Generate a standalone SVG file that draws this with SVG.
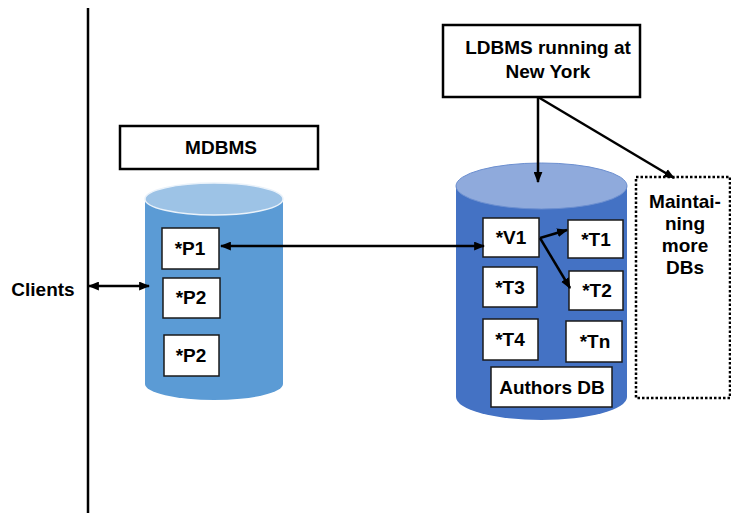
<svg xmlns="http://www.w3.org/2000/svg" width="731" height="519" viewBox="0 0 731 519">
  <style>
    text { font-family: "Liberation Sans", Arial, sans-serif; font-weight: bold; font-size: 19px; fill: #000; text-anchor: middle; }
    .label { fill: #fff; stroke: #000; stroke-width: 2.5; }
    .cell { fill: #fff; stroke: #1a1a1a; stroke-width: 1.5; }
    .wire { stroke: #000; stroke-width: 2.5; fill: none; }
  </style>
  <defs>
    <marker id="head" viewBox="0 0 10 8" refX="9" refY="4" markerWidth="4.4" markerHeight="3.6" orient="auto-start-reverse" markerUnits="strokeWidth">
      <path d="M0,0 L10,4 L0,8 z" fill="#000"/>
    </marker>
  </defs>
  <rect width="731" height="519" fill="#fff"/>

  <!-- client boundary -->
  <line x1="88" y1="8" x2="88" y2="513" stroke="#000" stroke-width="2.5"/>
  <g id="clients">
    <text x="43" y="296">Clients</text>
  </g>

  <!-- mediator DBMS -->
  <g id="mdbms-label">
    <rect class="label" x="120" y="126" width="198" height="43"/>
    <text x="221" y="154">MDBMS</text>
  </g>
  <g id="mdbms-store">
    <path d="M145,199 L145,384 A69,16 0 0 0 283,384 L283,199 Z" fill="#5B9BD5"/>
    <ellipse cx="214" cy="199" rx="69" ry="16" fill="#9DC3E6" stroke="#EAF2FA" stroke-width="1.5"/>
    <g id="p1"><rect class="cell" x="162" y="228" width="57" height="41"/><text x="190" y="255">*P1</text></g>
    <g id="p2a"><rect class="cell" x="163" y="278" width="57" height="40"/><text x="191" y="304">*P2</text></g>
    <g id="p2b"><rect class="cell" x="164" y="335" width="55" height="41"/><text x="191" y="362">*P2</text></g>
  </g>

  <!-- local DBMS -->
  <g id="ldbms">
    <rect class="label" x="443" y="25" width="197" height="72"/>
    <text x="548" y="54">LDBMS running at</text>
    <text x="548" y="78">New York</text>
  </g>
  <g id="authors-store">
    <path d="M456,186 L456,397 A85.5,23 0 0 0 627,397 L627,186 Z" fill="#4472C4"/>
    <ellipse cx="541.5" cy="186" rx="85.5" ry="23" fill="#8FAADC" stroke="#6C8FD0" stroke-width="1"/>
    <g id="v1"><rect class="cell" x="483" y="218" width="56" height="39"/><text x="511" y="244">*V1</text></g>
    <g id="t1"><rect class="cell" x="568" y="220" width="55" height="38"/><text x="596" y="246">*T1</text></g>
    <g id="t3"><rect class="cell" x="483" y="267" width="54" height="40"/><text x="510" y="294">*T3</text></g>
    <g id="t2"><rect class="cell" x="569" y="271" width="54" height="39"/><text x="597" y="297">*T2</text></g>
    <g id="t4"><rect class="cell" x="483" y="319" width="55" height="41"/><text x="510" y="346">*T4</text></g>
    <g id="tn"><rect class="cell" x="566" y="321" width="56" height="41"/><text x="595" y="348">*Tn</text></g>
    <g id="authors-db"><rect class="cell" x="491" y="367" width="121" height="40"/><text x="552" y="394">Authors DB</text></g>
  </g>

  <g id="more-dbs">
    <rect x="636" y="177" width="94" height="221" fill="#fff" stroke="#000" stroke-width="2.5" stroke-dasharray="2.5 2"/>
    <text x="685" y="208">Maintai-</text>
    <text x="685" y="230">ning</text>
    <text x="685" y="252">more</text>
    <text x="685" y="274">DBs</text>
  </g>

  <!-- connectors -->
  <g id="connectors">
    <line class="wire" x1="89" y1="286" x2="149" y2="286" marker-start="url(#head)" marker-end="url(#head)"/>
    <line class="wire" x1="221" y1="246" x2="484" y2="246" marker-start="url(#head)" marker-end="url(#head)"/>
    <line class="wire" x1="538" y1="97" x2="538" y2="182" marker-end="url(#head)"/>
    <line class="wire" x1="538" y1="97" x2="674" y2="178" marker-end="url(#head)"/>
    <line class="wire" x1="540" y1="238" x2="567" y2="230" marker-end="url(#head)"/>
    <line class="wire" x1="540" y1="238" x2="570" y2="288" marker-end="url(#head)"/>
  </g>
</svg>
